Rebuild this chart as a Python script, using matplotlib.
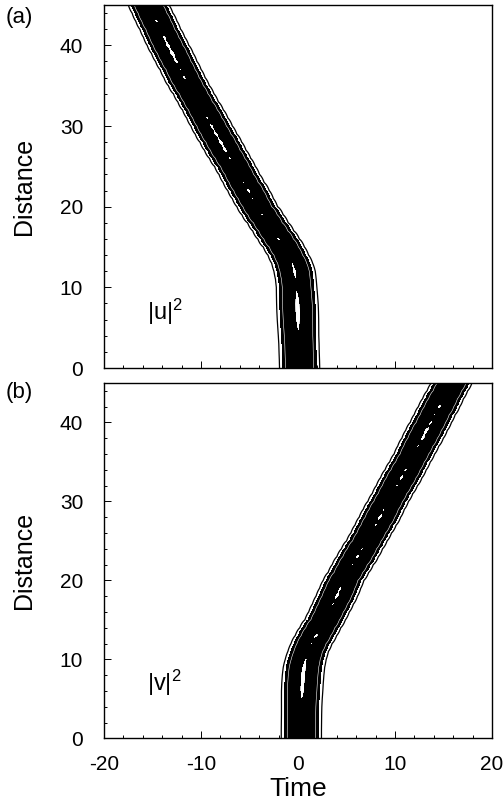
import numpy as np
import matplotlib
matplotlib.use("Agg")
import matplotlib.pyplot as plt
from matplotlib.ticker import MultipleLocator

plt.rcParams["font.family"] = ["Liberation Sans", "DejaVu Sans"]
plt.rcParams["axes.unicode_minus"] = False
plt.rcParams["mathtext.default"] = "regular"

# ======================================================
# Data
# ======================================================
# distance rows (0 .. 45, step 1)
distance = list(range(46))

# pulse centre (Time) at each distance row, panel (a) |u|^2
centre_u = [0.17, 0.15, 0.12, 0.10, 0.06, 0.03, 0.0, -0.03, -0.06, -0.10,
            -0.14, -0.22, -0.35, -0.6, -1.0, -1.45, -2.0, -2.55, -3.1, -3.65,
            -4.2, -4.65, -5.1, -5.6, -6.05, -6.5, -7.0, -7.5, -7.95, -8.45,
            -8.9, -9.35, -9.8, -10.3, -10.75, -11.25, -11.7, -12.1, -12.55, -12.95,
            -13.4, -13.8, -14.2, -14.6, -15.0, -15.4]

# pulse centre (Time) at each distance row, panel (b) |v|^2
centre_v = [0.35, 0.35, 0.36, 0.37, 0.38, 0.4, 0.43, 0.47, 0.53, 0.62,
            0.8, 1.05, 1.4, 1.85, 2.3, 2.8, 3.2, 3.6, 4.0, 4.35,
            4.7, 5.2, 5.65, 6.15, 6.6, 7.1, 7.55, 8.0, 8.45, 8.85,
            9.3, 9.75, 10.2, 10.65, 11.1, 11.55, 12.0, 12.4, 12.85, 13.25,
            13.7, 14.1, 14.55, 14.95, 15.4, 15.85]

# peak intensity along the trajectory (gives the white slivers in the core)
peak_u = [0.9, 0.9, 0.9, 0.91, 0.93, 0.99, 1.05, 1.08, 1.07, 1.01,
          0.94, 0.96, 1.04, 0.99, 0.94, 1.0, 1.05, 0.99, 0.94, 1.02,
          0.94, 1.0, 1.05, 0.99, 0.93, 0.95, 1.02, 1.06, 1.08, 1.07,
          1.04, 1.01, 0.96, 0.93, 0.93, 0.98, 1.02, 0.99, 1.04, 1.08,
          1.07, 1.03, 0.96, 1.02, 0.96, 0.93]
peak_v = [0.9, 0.9, 0.9, 0.9, 0.92, 0.97, 1.04, 1.06, 1.07, 1.05,
          0.99, 0.94, 1.0, 1.05, 0.99, 0.93, 0.94, 1.0, 1.05, 1.02,
          0.95, 0.93, 1.0, 1.05, 1.0, 0.93, 0.94, 1.01, 1.05, 1.0,
          0.94, 0.93, 1.0, 1.05, 1.01, 0.94, 0.93, 1.0, 1.05, 1.07,
          1.02, 0.99, 1.04, 0.97, 0.93, 0.93]

pulse_width = 0.8
outer_level = [0.02]              # thin outer ring
core_range = [0.045, 0.96]        # solid black part of the band
edge_gap = [0.09]                 # thin white line just inside the edge

time = np.linspace(-20, 20, 1601)


def intensity(centre, peak):
    c = np.asarray(centre)[:, None]
    a = np.asarray(peak)[:, None]
    return a / np.cosh((time[None, :] - c) / pulse_width) ** 2


# ======================================================
# Figure
# ======================================================
fig = plt.figure(figsize=(5.04, 8.09), dpi=100)
ax_a = fig.add_axes([0.2063, 0.5451, 0.7698, 0.4487])
ax_b = fig.add_axes([0.2063, 0.0874, 0.7698, 0.4392])

panels = [
    (ax_a, centre_u, peak_u, "|u|$^{2}$", "(a)", 0.991),
    (ax_b, centre_v, peak_v, "|v|$^{2}$", "(b)", 0.528),
]

for ax, centre, peak, tag, letter, ytop in panels:
    field = intensity(centre, peak)
    ax.contourf(time, distance, field, levels=core_range, colors=["black"])
    ax.contour(time, distance, field, levels=outer_level,
               colors="black", linewidths=0.9)
    ax.contour(time, distance, field, levels=edge_gap,
               colors="white", linewidths=0.4)
    ax.contour(time, distance, field, levels=[core_range[1]],
               colors="black", linewidths=0.4)

    ax.set_xlim(-20, 20)
    ax.set_ylim(0, 45)
    ax.xaxis.set_major_locator(MultipleLocator(10))
    ax.xaxis.set_minor_locator(MultipleLocator(2))
    ax.yaxis.set_major_locator(MultipleLocator(10))
    ax.yaxis.set_minor_locator(MultipleLocator(2))
    ax.tick_params(which="both", direction="in", top=False, right=False,
                   width=0.7)
    ax.tick_params(which="major", length=5, labelsize=15)
    ax.tick_params(which="minor", length=2.5)
    ax.tick_params(axis="y", which="major", pad=15)
    ax.tick_params(axis="x", which="major", pad=12)
    for sp in ax.spines.values():
        sp.set_linewidth(1.0)

    ax.set_ylabel("Distance", fontsize=18, labelpad=17)
    ax.text(-15.6, 6, tag, fontsize=17, ha="left", va="baseline")
    fig.text(0.012, ytop, letter, fontsize=16, ha="left", va="top")

ax_a.tick_params(axis="x", labelbottom=False)
ax_b.set_xlabel("Time", fontsize=19, labelpad=2)

fig.savefig("out.png", dpi=100)
